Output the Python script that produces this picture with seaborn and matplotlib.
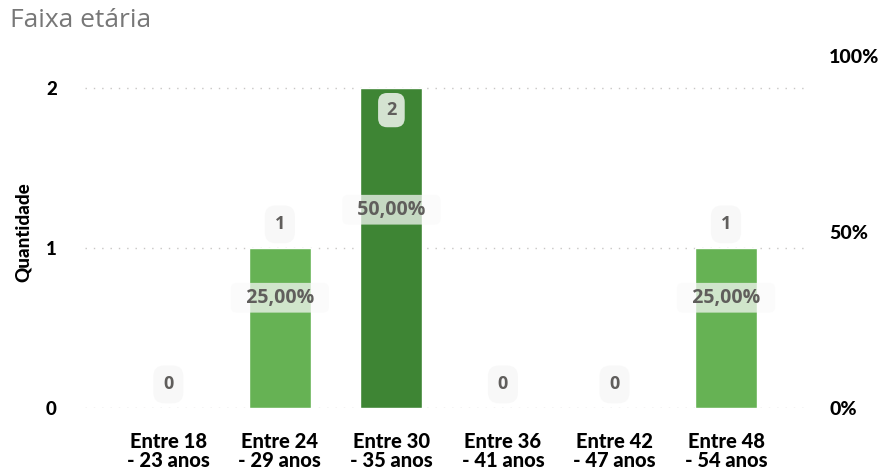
import matplotlib
matplotlib.use("Agg")
import matplotlib.pyplot as plt
import seaborn as sns
import pandas as pd

# data
faixas = ["Entre 18\n- 23 anos", "Entre 24\n- 29 anos", "Entre 30\n- 35 anos",
          "Entre 36\n- 41 anos", "Entre 42\n- 47 anos", "Entre 48\n- 54 anos"]
quantidade = [0, 1, 2, 0, 0, 1]
percentual = [0.0, 0.25, 0.50, 0.0, 0.0, 0.25]
pct_labels = ["0,00%", "25,00%", "50,00%", "0,00%", "0,00%", "25,00%"]
left_ticks = [0, 1, 2]
right_ticks = [0, 0.5, 1.0]
right_ticklabels = ["0%", "50%", "100%"]

df = pd.DataFrame({"faixa": faixas, "qtd": quantidade, "pct": percentual})

light_green = "#66b254"
dark_green = "#3e8534"
palette = [dark_green if q == max(quantidade) else light_green for q in quantidade]

sns.set_style("white")
plt.rcParams["font.family"] = ["DejaVu Sans"]

fig = plt.figure(figsize=(8.82, 4.72), dpi=100)
ax = fig.add_axes([0.096, 0.1356, 0.822, 0.746])

sns.barplot(data=df, x="faixa", y="qtd", hue="faixa", palette=palette,
            legend=False, width=0.555, ax=ax, saturation=1)

heavy = 900
ax.set_ylim(0, 2.2)
ax.set_xlim(-0.75, 5.75)
ax.set_yticks(left_ticks)
ax.set_yticklabels([str(t) for t in left_ticks], fontsize=13.5, fontweight=heavy,
                   family="Lato", color="black")
for y in left_ticks:
    ax.axhline(y, color="#c8c6c4", lw=1, ls=(0, (1, 5)), zorder=0)
ax.set_xticks(range(len(faixas)))
ax.set_xticklabels(faixas, fontsize=14.5, fontweight=heavy, family="Lato",
                   linespacing=1.0, color="black")
ax.tick_params(axis="x", length=0, pad=17)
ax.tick_params(axis="y", length=0, pad=20)
ax.set_xlabel("")
ax.set_ylabel("Quantidade", fontsize=13.5, fontweight=heavy,
              family="Lato", color="black")
ax.yaxis.set_label_coords(-0.073, 0.5)
sns.despine(ax=ax, left=True, bottom=True)

# count labels
top = max(quantidade)
for i, q in enumerate(quantidade):
    if q == top:
        ax.annotate(str(q), (i, q), xytext=(0, -16), textcoords="offset points",
                    ha="center", va="center", fontsize=13, fontweight="bold",
                    color="#605e5c", family="Open Sans",
                    bbox=dict(boxstyle="round,pad=0.45,rounding_size=0.5",
                              fc="#ffffff", ec="none", alpha=0.78))
    else:
        ax.annotate(str(q), (i, q), xytext=(0, 17), textcoords="offset points",
                    ha="center", va="center", fontsize=13, fontweight="bold",
                    color="#605e5c", family="Open Sans",
                    bbox=dict(boxstyle="round,pad=0.55,rounding_size=0.6",
                              fc="#f8f8f8", ec="none", alpha=0.9))

# secondary percentage axis
ax2 = ax.twinx()
ax2.set_ylim(0, 1.0)
ax2.set_yticks(right_ticks)
ax2.set_yticklabels(right_ticklabels, fontsize=14, fontweight=heavy,
                    family="Lato", color="black")
ax2.tick_params(axis="y", length=0, pad=14)
for s in ax2.spines.values():
    s.set_visible(False)
ax2.grid(False)
nbsp = "\u00a0"
for i, (p, lab) in enumerate(zip(percentual, pct_labels)):
    if p > 0:
        ax2.annotate(nbsp * 2 + lab + nbsp * 2, (i, p), xytext=(0, 16),
                     textcoords="offset points",
                     ha="center", va="center", fontsize=14, fontweight="bold",
                     color="#605e5c", family="Open Sans",
                     bbox=dict(boxstyle="round,pad=0.25,rounding_size=0.3",
                               fc="#fafafa", ec="none", alpha=0.72))

fig.text(0.011, 0.957, "Faixa etária", fontsize=19, color="#777777",
         family="Open Sans", ha="left", va="center")

fig.savefig("out.png", dpi=100)
